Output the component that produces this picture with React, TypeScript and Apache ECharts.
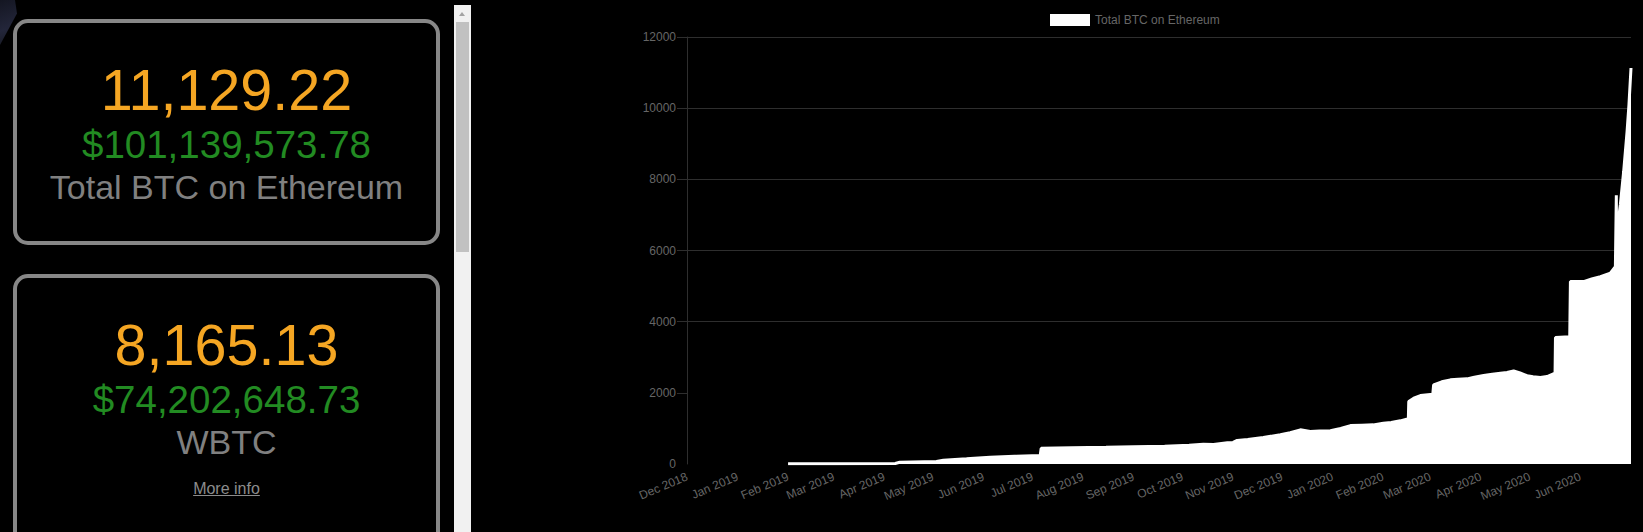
import React, { useEffect, useRef } from 'react';
import * as echarts from 'echarts';

// ---------- data ----------
const SERIES_NAME = 'Total BTC on Ethereum';

const pointDates: string[] = [
  '2019-02-01 00:00', '2019-03-01 00:00', '2019-04-07 18:00', '2019-04-10 12:00', '2019-05-03 00:00',
  '2019-05-07 06:00', '2019-05-21 12:00', '2019-06-05 00:00', '2019-06-20 00:00', '2019-07-05 16:00',
  '2019-07-06 06:00', '2019-07-25 00:00', '2019-08-15 00:00', '2019-09-01 00:00', '2019-09-20 00:00',
  '2019-10-05 00:00', '2019-10-13 18:00', '2019-10-20 00:00', '2019-10-28 12:00', '2019-11-01 00:00',
  '2019-11-03 12:00', '2019-11-10 00:00', '2019-11-19 12:00', '2019-11-30 00:00', '2019-12-06 00:00',
  '2019-12-12 06:00', '2019-12-18 08:00', '2019-12-24 00:00', '2019-12-30 16:00', '2020-01-06 00:00',
  '2020-01-12 00:00', '2020-01-19 00:00', '2020-01-26 00:00', '2020-02-01 04:00', '2020-02-06 00:00',
  '2020-02-11 14:00', '2020-02-16 12:00', '2020-02-16 18:00', '2020-02-19 20:00', '2020-02-23 22:00',
  '2020-03-02 12:00', '2020-03-03 00:00', '2020-03-08 00:00', '2020-03-13 08:00', '2020-03-18 00:00',
  '2020-03-23 12:00', '2020-03-28 00:00', '2020-04-02 16:00', '2020-04-08 00:00', '2020-04-13 00:00',
  '2020-04-17 00:00', '2020-04-21 02:00', '2020-04-25 00:00', '2020-04-29 08:00', '2020-05-03 00:00',
  '2020-05-07 12:00', '2020-05-11 14:00', '2020-05-16 12:00', '2020-05-16 18:00', '2020-05-25 12:00',
  '2020-05-25 22:00', '2020-06-03 00:00', '2020-06-08 00:00', '2020-06-13 08:00', '2020-06-19 10:00',
  '2020-06-22 12:00', '2020-06-23 02:00', '2020-06-23 06:00', '2020-06-23 22:00', '2020-06-25 14:00',
  '2020-06-27 14:00', '2020-06-29 16:00', '2020-06-30 20:00', '2020-07-02 02:00',
];

const totalBtc: number[] = [
  5, 8, 14, 48, 68,
  105, 145, 190, 215, 238,
  440, 455, 468, 483, 500,
  530, 552, 548, 600, 606,
  662, 690, 745, 820, 880,
  960, 915, 928, 935, 1000,
  1080, 1092, 1100, 1145, 1168,
  1213, 1270, 1756, 1848, 1924,
  1961, 2225, 2310, 2365, 2380,
  2393, 2440, 2486, 2520, 2551,
  2575, 2618, 2560, 2480, 2450,
  2430, 2458, 2551, 3553, 3573,
  5126, 5126, 5200, 5267, 5360,
  5548, 7550, 6400, 6700, 7300,
  8220, 9340, 10100, 11129.22,
];

const monthLabels: string[] = [
  'Dec 2018', 'Jan 2019', 'Feb 2019', 'Mar 2019', 'Apr 2019', 'May 2019', 'Jun 2019',
  'Jul 2019', 'Aug 2019', 'Sep 2019', 'Oct 2019', 'Nov 2019', 'Dec 2019', 'Jan 2020',
  'Feb 2020', 'Mar 2020', 'Apr 2020', 'May 2020', 'Jun 2020',
];

const yTicks: number[] = [0, 2000, 4000, 6000, 8000, 10000, 12000];

const cardAmounts: string[] = ['11,129.22', '8,165.13'];
const cardUsd: string[] = ['$101,139,573.78', '$74,202,648.73'];
const cardLabels: string[] = ['Total BTC on Ethereum', 'WBTC'];
const cardLinks: (string | null)[] = [null, 'More info'];

// ---------- helpers ----------
const MONTHS = ['Jan', 'Feb', 'Mar', 'Apr', 'May', 'Jun', 'Jul', 'Aug', 'Sep', 'Oct', 'Nov', 'Dec'];

function parseStamp(s: string): number {
  const [d, t] = s.split(' ');
  const [y, m, day] = d.split('-').map(Number);
  const [h, mi] = (t || '00:00').split(':').map(Number);
  return new Date(y, m - 1, day, h, mi).getTime();
}

function monthLabelToStamp(label: string): number {
  const [mon, yr] = label.split(' ');
  return new Date(Number(yr), MONTHS.indexOf(mon), 1).getTime();
}

const FONT = '"Liberation Sans", Arial, Helvetica, sans-serif';
const GRID = '#2e2e2e';
const TICK_TEXT = '#666666';

export default function App() {
  const chartRef = useRef<HTMLDivElement | null>(null);

  useEffect(() => {
    if (!chartRef.current) return;
    const chart = echarts.init(chartRef.current, null, { renderer: 'svg' });
    const seriesData = pointDates.map((d, i) => [parseStamp(d), totalBtc[i]]);
    const monthStamps = monthLabels.map(monthLabelToStamp);
    const xMin = monthStamps[0];
    const xMax = parseStamp(pointDates[pointDates.length - 1]);

    chart.setOption({
      animation: false,
      backgroundColor: 'transparent',
      textStyle: { fontFamily: FONT },
      legend: {
        show: true,
        top: 14,
        left: 450,
        padding: 0,
        icon: 'rect',
        itemWidth: 40,
        itemHeight: 12,
        textStyle: { color: TICK_TEXT, fontSize: 12, fontFamily: FONT },
        data: [{ name: SERIES_NAME, itemStyle: { color: '#ffffff' } }],
      },
      grid: { left: 87, right: 12, top: 37, bottom: 68, containLabel: false },
      xAxis: {
        type: 'value',
        min: xMin,
        max: xMax,
        scale: true,
        axisLine: { show: false },
        axisTick: { show: false },
        splitLine: { show: false },
        axisLabel: {
          customValues: monthStamps,
          formatter: (v: number) => {
            const dt = new Date(v);
            return MONTHS[dt.getMonth()] + ' ' + dt.getFullYear();
          },
          rotate: 23,
          margin: 12,
          color: TICK_TEXT,
          fontSize: 12,
          fontFamily: FONT,
          hideOverlap: false,
          showMinLabel: true,
          showMaxLabel: true,
        },
      },
      yAxis: {
        type: 'value',
        min: yTicks[0],
        max: yTicks[yTicks.length - 1],
        interval: 2000,
        axisLine: { show: true, lineStyle: { color: GRID, width: 1 } },
        axisTick: {
          show: true,
          length: 10,
          customValues: yTicks.filter((v) => v > 0),
          lineStyle: { color: GRID, width: 1 },
        },
        axisLabel: {
          color: TICK_TEXT,
          fontSize: 12,
          margin: 11,
          fontFamily: FONT,
          formatter: (v: number) => String(v),
        },
        splitLine: {
          show: true,
          lineStyle: {
            color: ['rgba(0,0,0,0)', GRID, GRID, GRID, GRID, GRID, GRID],
            width: 1,
          },
        },
      },
      series: [
        {
          name: SERIES_NAME,
          type: 'line',
          data: seriesData,
          symbol: 'none',
          showSymbol: false,
          lineStyle: { color: '#ffffff', width: 3 },
          itemStyle: { color: '#ffffff' },
          areaStyle: { color: '#ffffff', opacity: 1 },
        },
      ],
    });

    return () => chart.dispose();
  }, []);

  const cardTops = [19, 274];
  const cardHeights = [226, 280];

  return (
    <div
      style={{
        position: 'fixed',
        left: 0,
        top: 0,
        width: 1643,
        height: 532,
        background: '#000',
        overflow: 'hidden',
        fontFamily: FONT,
      }}
    >
      {/* background corner shape */}
      <div
        style={{
          position: 'absolute',
          left: 0,
          top: 0,
          width: 20,
          height: 45,
          background: 'linear-gradient(160deg, #141622 0%, #23263a 60%, #15171f 100%)',
          clipPath: 'polygon(0 0, 75% 0, 85% 30%, 0 100%)',
        }}
      />

      {cardAmounts.map((amt, i) => {
        const top = cardTops[i];
        return (
          <React.Fragment key={i}>
            <div
              style={{
                position: 'absolute',
                left: 13,
                top,
                width: 427,
                height: cardHeights[i],
                border: '4px solid #878787',
                borderRadius: 15,
                boxSizing: 'border-box',
                background: '#000',
              }}
            />
            <div
              style={{
                position: 'absolute', left: 13, width: 427, textAlign: 'center',
                top: top + 43.3, fontSize: 57.5, lineHeight: '57.5px', color: '#f5a623', whiteSpace: 'nowrap',
              }}
            >
              {amt}
            </div>
            <div
              style={{
                position: 'absolute', left: 13, width: 427, textAlign: 'center',
                top: top + 106.7, fontSize: 38.5, lineHeight: '38.5px', color: '#228b22', whiteSpace: 'nowrap',
              }}
            >
              {cardUsd[i]}
            </div>
            <div
              style={{
                position: 'absolute', left: 13, width: 427, textAlign: 'center',
                top: top + 150.7, fontSize: 34, lineHeight: '34px', color: '#808080', whiteSpace: 'nowrap',
              }}
            >
              {cardLabels[i]}
            </div>
            {cardLinks[i] && (
              <div
                style={{
                  position: 'absolute', left: 13, width: 427, textAlign: 'center',
                  top: top + 206.8, fontSize: 16, lineHeight: '16px', color: '#8c8c8c',
                  textDecoration: 'underline', whiteSpace: 'nowrap',
                }}
              >
                {cardLinks[i]}
              </div>
            )}
          </React.Fragment>
        );
      })}

      {/* scrollbar */}
      <div style={{ position: 'absolute', left: 454, top: 5, width: 17, height: 527, background: '#f1f1f1' }} />
      <div
        style={{
          position: 'absolute', left: 459, top: 12, width: 0, height: 0,
          borderLeft: '3.5px solid transparent', borderRight: '3.5px solid transparent',
          borderBottom: '4px solid #a3a3a3',
        }}
      />
      <div style={{ position: 'absolute', left: 456, top: 22, width: 13, height: 230, background: '#c1c1c1' }} />

      <div ref={chartRef} style={{ position: 'absolute', left: 600, top: 0, width: 1043, height: 532 }} />
    </div>
  );
}
